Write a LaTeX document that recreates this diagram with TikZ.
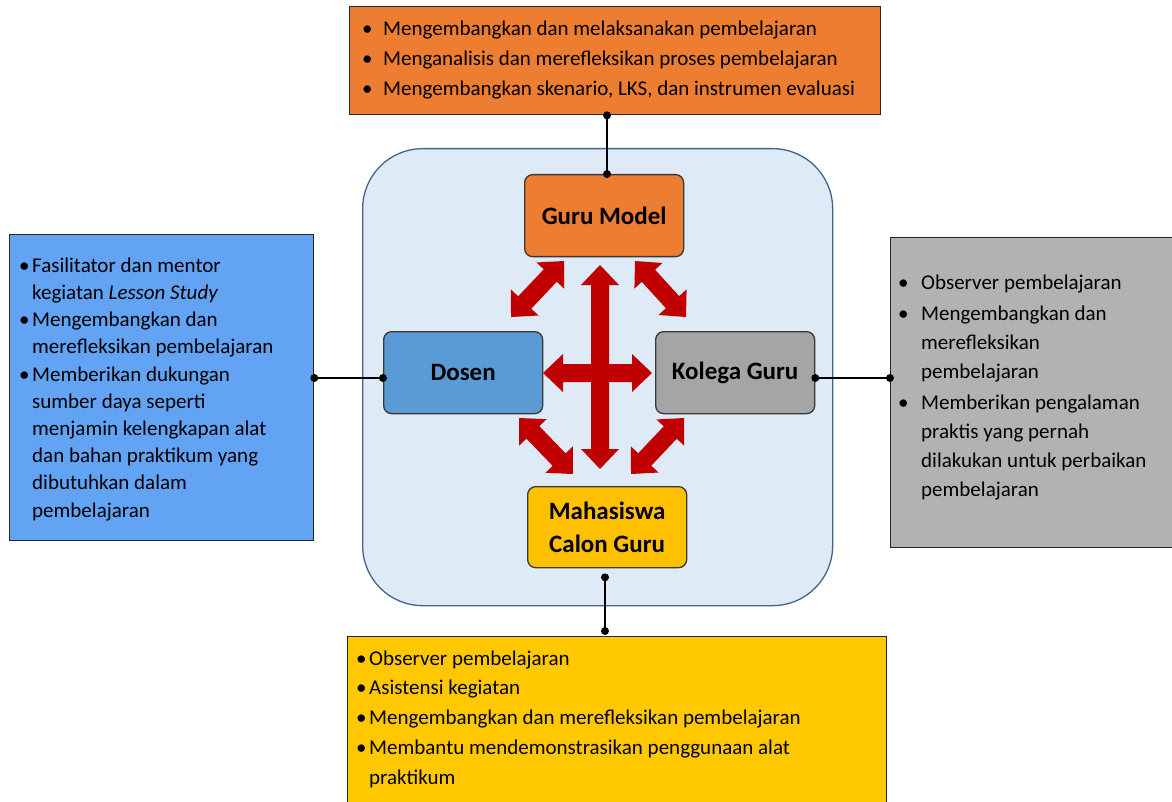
\documentclass[tikz,border=0pt]{standalone}
\usepackage{fontspec}
\setmainfont{Carlito}
\usetikzlibrary{calc}
\definecolor{orangeC}{RGB}{237,125,49}
\definecolor{dosenC}{RGB}{91,155,213}
\definecolor{kolegaC}{RGB}{165,165,165}
\definecolor{mhsC}{RGB}{255,192,0}
\definecolor{leftC}{RGB}{99,163,244}
\definecolor{rightC}{RGB}{178,178,178}
\definecolor{botC}{RGB}{255,200,0}
\definecolor{arrowred}{RGB}{192,0,0}
\definecolor{panelbg}{RGB}{222,234,246}
\definecolor{panelborder}{RGB}{66,100,140}
\newcommand\bul[1]{\makebox[#1][l]{\textbullet}}
\newcommand\ind[1]{\hspace*{#1}}
\newcommand\redarrow[2]{%
  \fill[arrowred] let \p1=($(#2)-(#1)$), \n1={atan2(\y1,\x1)} in
    (#1) -- ($(#1)+(\n1:20pt)+({\n1+90}:19pt)$) -- ($(#1)+(\n1:20pt)+({\n1+90}:9pt)$)
    -- ($(#2)+({\n1+180}:20pt)+({\n1+90}:9pt)$) -- ($(#2)+({\n1+180}:20pt)+({\n1+90}:19pt)$)
    -- (#2) -- ($(#2)+({\n1+180}:20pt)+({\n1-90}:19pt)$) -- ($(#2)+({\n1+180}:20pt)+({\n1-90}:9pt)$)
    -- ($(#1)+(\n1:20pt)+({\n1-90}:9pt)$) -- ($(#1)+(\n1:20pt)+({\n1-90}:19pt)$) -- cycle;}
\tikzset{
  role/.style={draw=black!78, line width=1.3pt, rounded corners=8pt, align=center,
    font=\fontsize{25}{33}\selectfont\bfseries, inner sep=0pt, anchor=north west,
    minimum width=159pt, minimum height=82pt},
  infobox/.style={draw=black!85, line width=1.3pt, inner sep=0pt, anchor=north west},
  infotext/.style={anchor=north west, inner sep=0pt, align=left},
  conn/.style={line width=1.3pt, black},
}
\begin{document}
\begin{tikzpicture}[x=1pt,y=-1pt]
\useasboundingbox (0,0) rectangle (1172,802);
\clip (0,0) rectangle (1172,802);
\fill[white] (0,0) rectangle (1172,802);

% central panel
\node[draw=panelborder, fill=panelbg, line width=1.3pt, rounded corners=60pt,
  minimum width=470pt, minimum height=457pt, anchor=north west, inner sep=0pt] (panel) at (362,148) {};

% role boxes
\node[role, fill=orangeC] (guru) at (524,174) {Guru Model};
\node[role, fill=dosenC] (dosen) at (383,331) {Dosen};
\node[role, fill=kolegaC] (kolega) at (655,331) {Kolega Guru};
\node[role, fill=mhsC, minimum height=81pt] (mhs) at (527,486) {Mahasiswa\\Calon Guru};

% red double arrows
\coordinate (vt) at (600,265); \coordinate (vb) at (600,469);
\coordinate (hl) at (543,373); \coordinate (hr) at (652,373);
\coordinate (nw1) at (511,317); \coordinate (nw2) at (564,261);
\coordinate (ne1) at (635,261); \coordinate (ne2) at (686,317);
\coordinate (sw1) at (519,418); \coordinate (sw2) at (573,474);
\coordinate (se1) at (684,418); \coordinate (se2) at (631,474);
\redarrow{vt}{vb}
\redarrow{hl}{hr}
\redarrow{nw1}{nw2}
\redarrow{ne1}{ne2}
\redarrow{sw1}{sw2}
\redarrow{se1}{se2}

% information boxes
\node[infobox, fill=orangeC, minimum width=531pt, minimum height=108pt] (topbox) at (349,6) {};
\node[infotext, font=\fontsize{21}{30}\selectfont] (toptext) at (362,14)
  {\strut\bul{21pt}Mengembangkan dan melaksanakan pembelajaran\\
   \bul{21pt}Menganalisis dan merefleksikan proses pembelajaran\\
   \bul{21pt}Mengembangkan skenario, LKS, dan instrumen evaluasi};

\node[infobox, fill=leftC, minimum width=304pt, minimum height=306pt] (leftbox) at (9,234) {};
\node[infotext, font=\fontsize{21}{27.2}\selectfont] (lefttext) at (19,253)
  {\strut\bul{13pt}Fasilitator dan mentor\\
   \ind{13pt}kegiatan \textit{Lesson Study}\\
   \bul{13pt}Mengembangkan dan\\
   \ind{13pt}merefleksikan pembelajaran\\
   \bul{13pt}Memberikan dukungan\\
   \ind{13pt}sumber daya seperti\\
   \ind{13pt}menjamin kelengkapan alat\\
   \ind{13pt}dan bahan praktikum yang\\
   \ind{13pt}dibutuhkan dalam\\
   \ind{13pt}pembelajaran};

\node[infobox, fill=rightC, minimum width=300pt, minimum height=310pt] (rightbox) at (890,237) {};
\node[infotext, font=\fontsize{21}{29}\selectfont] (righttext) at (898,268.7)
  {\strut\bul{23pt}Observer pembelajaran\\[2pt]
   \bul{23pt}Mengembangkan dan\\
   \ind{23pt}merefleksikan\\
   \ind{23pt}pembelajaran\\[2pt]
   \bul{23pt}Memberikan pengalaman\\
   \ind{23pt}praktis yang pernah\\
   \ind{23pt}dilakukan untuk perbaikan\\
   \ind{23pt}pembelajaran};

\node[infobox, fill=botC, minimum width=539pt, minimum height=200pt] (botbox) at (347,636) {};
\node[infotext, font=\fontsize{21}{29.8}\selectfont] (bottext) at (356,644)
  {\strut\bul{13pt}Observer pembelajaran\\
   \bul{13pt}Asistensi kegiatan\\
   \bul{13pt}Mengembangkan dan merefleksikan pembelajaran\\
   \bul{13pt}Membantu mendemonstrasikan penggunaan alat\\
   \ind{13pt}praktikum};

% connectors
\coordinate (xt) at (607,0);
\coordinate (xb) at (605,0);
\coordinate (yl) at (0,378);
\coordinate (c1) at (xt |- topbox.south);
\coordinate (c2) at (xt |- guru.north);
\coordinate (c3) at (leftbox.east |- yl);
\coordinate (c4) at (dosen.west |- yl);
\coordinate (c5) at (kolega.east |- yl);
\coordinate (c6) at (rightbox.west |- yl);
\coordinate (c7) at ($(xb |- mhs.south)+(0,9)$);
\coordinate (c8) at ($(xb |- botbox.north)+(0,-5)$);
\draw[conn] (c1) -- (c2);
\draw[conn] (c3) -- (c4);
\draw[conn] (c5) -- (c6);
\draw[conn] (c7) -- (c8);
\foreach \c in {c1,c2,c3,c4,c5,c6,c7,c8} \fill (\c) circle (4pt);
\end{tikzpicture}
\end{document}
